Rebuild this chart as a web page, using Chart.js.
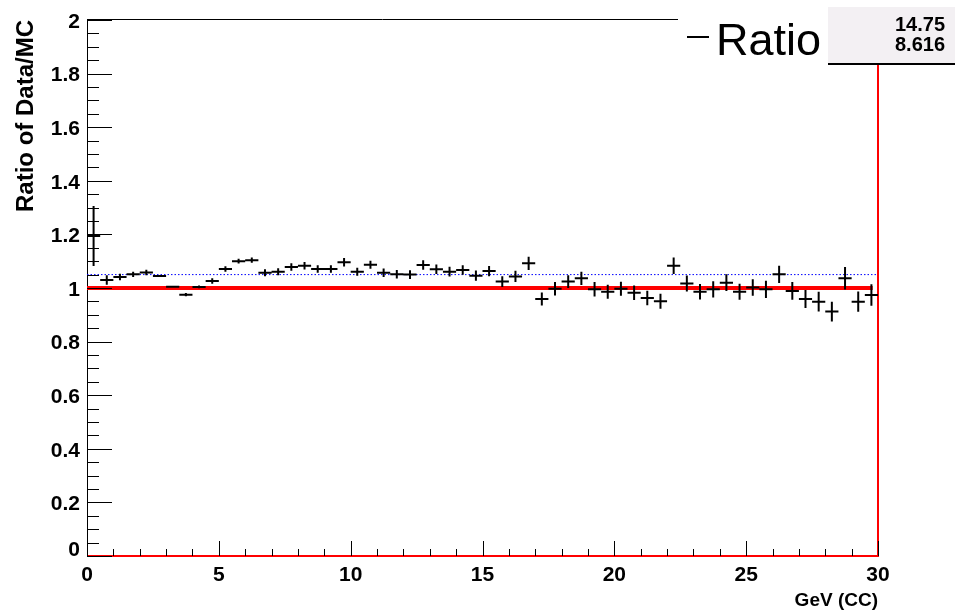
<!DOCTYPE html>
<html>
<head>
<meta charset="utf-8">
<script src="https://cdn.jsdelivr.net/npm/chart.js@4.4.1/dist/chart.umd.min.js"></script>
<style>
  html, body { margin: 0; padding: 0; background: #fff; }
</style>
</head>
<body>
<canvas id="ratioChart" width="955" height="614"></canvas>
<script>
// bin centres (GeV), ratio values and their errors
const binCenters = [0.25, 0.75, 1.25, 1.75, 2.25, 2.75, 3.25, 3.75, 4.25, 4.75,
  5.25, 5.75, 6.25, 6.75, 7.25, 7.75, 8.25, 8.75, 9.25, 9.75,
  10.25, 10.75, 11.25, 11.75, 12.25, 12.75, 13.25, 13.75, 14.25, 14.75,
  15.25, 15.75, 16.25, 16.75, 17.25, 17.75, 18.25, 18.75, 19.25, 19.75,
  20.25, 20.75, 21.25, 21.75, 22.25, 22.75, 23.25, 23.75, 24.25, 24.75,
  25.25, 25.75, 26.25, 26.75, 27.25, 27.75, 28.25, 28.75, 29.25, 29.75];
const ratioValues = [1.194, 1.030, 1.041, 1.051, 1.058, 1.045, 1.005, 0.975, 1.004, 1.026,
  1.071, 1.100, 1.104, 1.057, 1.061, 1.078, 1.083, 1.071, 1.071, 1.096,
  1.061, 1.087, 1.057, 1.051, 1.050, 1.086, 1.070, 1.061, 1.067, 1.046,
  1.063, 1.024, 1.043, 1.092, 0.959, 0.997, 1.024, 1.036, 0.995, 0.986,
  0.997, 0.982, 0.963, 0.951, 1.083, 1.017, 0.986, 0.995, 1.020, 0.986,
  1.002, 0.995, 1.051, 0.989, 0.959, 0.949, 0.912, 1.036, 0.949, 0.974];
const ratioErrors = [0.112, 0.018, 0.012, 0.010, 0.010, 0.003, 0.003, 0.006, 0.005, 0.010,
  0.010, 0.009, 0.010, 0.013, 0.013, 0.014, 0.014, 0.014, 0.014, 0.016,
  0.015, 0.015, 0.016, 0.016, 0.016, 0.018, 0.018, 0.018, 0.018, 0.019,
  0.019, 0.020, 0.021, 0.025, 0.024, 0.025, 0.024, 0.025, 0.027, 0.026,
  0.026, 0.027, 0.027, 0.028, 0.031, 0.030, 0.029, 0.030, 0.031, 0.030,
  0.031, 0.032, 0.032, 0.033, 0.034, 0.037, 0.037, 0.042, 0.038, 0.040];
const binHalfWidth = 0.25;

const fitLevel = 1.0;
const fitEnd = 29.8;
const meanLevel = 1.05;

const xMajorTicks = [0, 5, 10, 15, 20, 25, 30];
const xTickLabels = ['0', '5', '10', '15', '20', '25', '30'];
const xMinorTicks = [1, 2, 3, 4, 6, 7, 8, 9, 11, 12, 13, 14, 16, 17, 18, 19, 21, 22, 23, 24, 26, 27, 28, 29];
const yMajorTicks = [0, 0.2, 0.4, 0.6, 0.8, 1, 1.2, 1.4, 1.6, 1.8, 2];
const yTickLabels = ['0', '0.2', '0.4', '0.6', '0.8', '1', '1.2', '1.4', '1.6', '1.8', '2'];
const yMinorTicks = [0.05, 0.1, 0.15, 0.25, 0.3, 0.35, 0.45, 0.5, 0.55, 0.65, 0.7, 0.75,
  0.85, 0.9, 0.95, 1.05, 1.1, 1.15, 1.25, 1.3, 1.35, 1.45, 1.5, 1.55, 1.65, 1.7, 1.75,
  1.85, 1.9, 1.95];

const legendLabel = 'Ratio';
const statLines = ['14.75', '8.616'];
const xTitle = 'GeV (CC)';
const yTitle = 'Ratio of Data/MC';

const FONT = '"Liberation Sans", Arial, Helvetica, sans-serif';

const rootStyle = {
  id: 'rootStyle',
  beforeDatasetsDraw(chart) {
    const { ctx, chartArea: a } = chart;
    ctx.save();
    ctx.strokeStyle = '#000';
    ctx.lineWidth = 1;
    ctx.beginPath();
    ctx.moveTo(a.left + 0.5, a.top);
    ctx.lineTo(a.left + 0.5, a.bottom);
    ctx.moveTo(a.left, a.bottom - 0.5);
    ctx.lineTo(a.right, a.bottom - 0.5);
    ctx.moveTo(a.left, a.top - 0.5);
    ctx.lineTo(678, a.top - 0.5);
    ctx.stroke();
    ctx.restore();
  },
  afterDatasetsDraw(chart) {
    const { ctx, chartArea: a, scales: { x, y } } = chart;
    ctx.save();

    // error crosses
    ctx.strokeStyle = '#000';
    ctx.lineWidth = 2;
    ctx.beginPath();
    binCenters.forEach((c, i) => {
      const py = y.getPixelForValue(ratioValues[i]);
      ctx.moveTo(x.getPixelForValue(c - binHalfWidth), py);
      ctx.lineTo(x.getPixelForValue(c + binHalfWidth), py);
      const px = x.getPixelForValue(c);
      ctx.moveTo(px, y.getPixelForValue(ratioValues[i] - ratioErrors[i]));
      ctx.lineTo(px, y.getPixelForValue(ratioValues[i] + ratioErrors[i]));
    });
    ctx.stroke();

    // inward ticks
    ctx.lineWidth = 1;
    ctx.beginPath();
    yMajorTicks.forEach(v => {
      const py = Math.round(y.getPixelForValue(v)) + 0.5;
      ctx.moveTo(a.left, py); ctx.lineTo(a.left + 25, py);
    });
    yMinorTicks.forEach(v => {
      const py = Math.round(y.getPixelForValue(v)) + 0.5;
      ctx.moveTo(a.left, py); ctx.lineTo(a.left + 12, py);
    });
    xMajorTicks.forEach(v => {
      const px = Math.round(x.getPixelForValue(v)) + 0.5;
      ctx.moveTo(px, a.bottom); ctx.lineTo(px, a.bottom - 15);
    });
    xMinorTicks.forEach(v => {
      const px = Math.round(x.getPixelForValue(v)) + 0.5;
      ctx.moveTo(px, a.bottom); ctx.lineTo(px, a.bottom - 7);
    });
    ctx.stroke();

    // tick labels
    ctx.fillStyle = '#000';
    ctx.font = 'bold 21px ' + FONT;
    ctx.textAlign = 'right';
    ctx.textBaseline = 'middle';
    yMajorTicks.forEach((v, i) => {
      const py = y.getPixelForValue(v) + (v === 0 ? -6 : 2);
      ctx.fillText(yTickLabels[i], a.left - 7, py);
    });
    ctx.textAlign = 'center';
    xMajorTicks.forEach((v, i) => {
      ctx.fillText(xTickLabels[i], x.getPixelForValue(v), a.bottom + 19);
    });

    // axis titles
    ctx.font = 'bold 19px ' + FONT;
    ctx.textAlign = 'right';
    ctx.fillText(xTitle, a.right, a.bottom + 45);
    ctx.save();
    ctx.font = 'bold 24px ' + FONT;
    ctx.translate(26, a.top);
    ctx.rotate(-Math.PI / 2);
    ctx.textAlign = 'right';
    ctx.fillText(yTitle, 0, 0);
    ctx.restore();

    ctx.restore();
  },
  afterDraw(chart) {
    const { ctx } = chart;
    ctx.save();
    // legend
    ctx.strokeStyle = '#000';
    ctx.lineWidth = 2;
    ctx.beginPath();
    ctx.moveTo(687, 37); ctx.lineTo(709, 37);
    ctx.stroke();
    ctx.fillStyle = '#000';
    ctx.font = '45px ' + FONT;
    ctx.textAlign = 'left';
    ctx.textBaseline = 'alphabetic';
    ctx.fillText(legendLabel, 716, 55);

    // stats box
    ctx.fillStyle = '#f3f0f3';
    ctx.fillRect(828, 7, 127, 56);
    ctx.strokeStyle = '#000';
    ctx.lineWidth = 2;
    ctx.beginPath();
    ctx.moveTo(828, 64); ctx.lineTo(955, 64);
    ctx.stroke();
    ctx.fillStyle = '#000';
    ctx.font = 'bold 20px ' + FONT;
    ctx.textAlign = 'right';
    ctx.textBaseline = 'middle';
    ctx.fillText(statLines[0], 945, 25);
    ctx.fillText(statLines[1], 945, 45);
    ctx.restore();
  }
};

new Chart(document.getElementById('ratioChart'), {
  type: 'scatter',
  data: {
    datasets: [
      {
        label: legendLabel,
        data: binCenters.map((c, i) => ({ x: c, y: ratioValues[i] })),
        pointRadius: 0,
        showLine: false
      },
      {
        type: 'line',
        data: [{ x: 0, y: fitLevel }, { x: fitEnd, y: fitLevel }],
        borderColor: '#ff0000',
        borderWidth: 4,
        pointRadius: 0
      },
      {
        type: 'line',
        data: [{ x: 0, y: meanLevel }, { x: 30, y: meanLevel }],
        borderColor: '#0000ff',
        borderWidth: 1,
        borderDash: [1.5, 2],
        pointRadius: 0
      },
      {
        type: 'line',
        data: [{ x: 0, y: 0 }, { x: 30, y: 0 }, { x: 30, y: 2 }],
        borderColor: '#ff0000',
        borderWidth: 2,
        pointRadius: 0,
        clip: false
      }
    ]
  },
  options: {
    responsive: false,
    animation: false,
    devicePixelRatio: 1,
    layout: { padding: { left: 87, right: 77, top: 20, bottom: 58 } },
    scales: {
      x: { type: 'linear', min: 0, max: 30, display: false },
      y: { type: 'linear', min: 0, max: 2, display: false }
    },
    plugins: { legend: { display: false }, tooltip: { enabled: false } }
  },
  plugins: [rootStyle]
});
</script>
</body>
</html>
